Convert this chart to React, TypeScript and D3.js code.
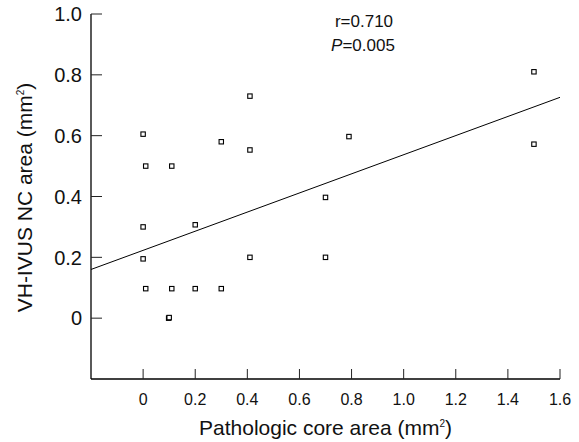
import React from 'react';
import * as d3 from 'd3';

// pathologic core area (mm2) vs VH-IVUS NC area (mm2)
const coreArea = [0, 0.01, 0.11, 0.3, 0.41, 0.41, 0, 0, 0.01, 0.11, 0.2, 0.3, 0.098, 0.1, 0.2, 0.41, 0.7, 0.7, 0.79, 1.5, 1.5];
const ncArea = [0.605, 0.5, 0.5, 0.58, 0.73, 0.553, 0.3, 0.195, 0.097, 0.097, 0.097, 0.097, 0, 0.002, 0.307, 0.2, 0.397, 0.2, 0.597, 0.81, 0.572];

const xTicks = [0, 0.2, 0.4, 0.6, 0.8, 1.0, 1.2, 1.4, 1.6];
const yTicks = [0, 0.2, 0.4, 0.6, 0.8, 1.0];

// regression line
const fitIntercept = 0.223;
const fitSlope = 0.3144;

const W = 579;
const H = 442;
const font = 'Arial, "Liberation Sans", Helvetica, sans-serif';
const narrow = '"Liberation Sans Narrow", "Arial Narrow", Arial, sans-serif';

export default function App() {
  const x = d3.scaleLinear().domain([-0.2, 1.6]).range([91, 560]);
  const y = d3.scaleLinear().domain([-0.2, 1.0]).range([379, 14]);

  const fitLine = d3.line<number>()
    .x(d => x(d))
    .y(d => y(fitIntercept + fitSlope * d));

  const fmt = (v: number) => (v === 0 ? '0' : v.toFixed(1));

  return (
    <svg width={W} height={H} style={{ position: 'absolute', left: 0, top: 0, background: '#fff' }}>
      {/* axes */}
      <line x1={x(-0.2)} x2={x(-0.2)} y1={y(1.0)} y2={y(-0.2)} stroke="#000" strokeWidth={1.3} />
      <line x1={x(-0.2)} x2={x(1.6)} y1={y(-0.2)} y2={y(-0.2)} stroke="#000" strokeWidth={1.3} />

      {yTicks.map(t => (
        <g key={'y' + t}>
          <line x1={x(-0.2)} x2={x(-0.2) + 11} y1={y(t)} y2={y(t)} stroke="#222" strokeWidth={1} />
          <text x={82} y={y(t)} dy="0.36em" textAnchor="end" fontFamily={narrow} fontSize={20} fill="#111">
            {fmt(t)}
          </text>
        </g>
      ))}

      {xTicks.map(t => (
        <g key={'x' + t}>
          <line x1={x(t)} x2={x(t)} y1={y(-0.2)} y2={y(-0.2) - 10} stroke="#222" strokeWidth={1} />
          <text x={x(t)} y={405} textAnchor="middle" fontFamily={font} fontSize={16} fill="#111">
            {fmt(t)}
          </text>
        </g>
      ))}

      {/* axis titles */}
      <text x={325.5} y={435} textAnchor="middle" fontFamily={font} fontSize={21} fill="#111">
        Pathologic core area (mm<tspan fontSize={10} dy={-8}>2</tspan><tspan dy={8}>)</tspan>
      </text>
      <text transform={`translate(32,197.5) rotate(-90)`} textAnchor="middle" fontFamily={font} fontSize={21} fill="#111">
        VH-IVUS NC area (mm<tspan fontSize={10} dy={-8}>2</tspan><tspan dy={8}>)</tspan>
      </text>

      {/* regression */}
      <path d={fitLine([-0.2, 1.6]) || ''} fill="none" stroke="#000" strokeWidth={1} />

      {/* points */}
      {coreArea.map((v, i) => (
        <rect key={i} x={x(v) - 2.2} y={y(ncArea[i]) - 2.2} width={4.4} height={4.4} fill="#fff" stroke="#000" strokeWidth={1.1} />
      ))}

      {/* stats */}
      <text x={364} y={27} textAnchor="middle" fontFamily={font} fontSize={17} fill="#111">r=0.710</text>
      <text x={363} y={51} textAnchor="middle" fontFamily={font} fontSize={17} fill="#111">
        <tspan fontStyle="italic">P</tspan>=0.005
      </text>
    </svg>
  );
}
